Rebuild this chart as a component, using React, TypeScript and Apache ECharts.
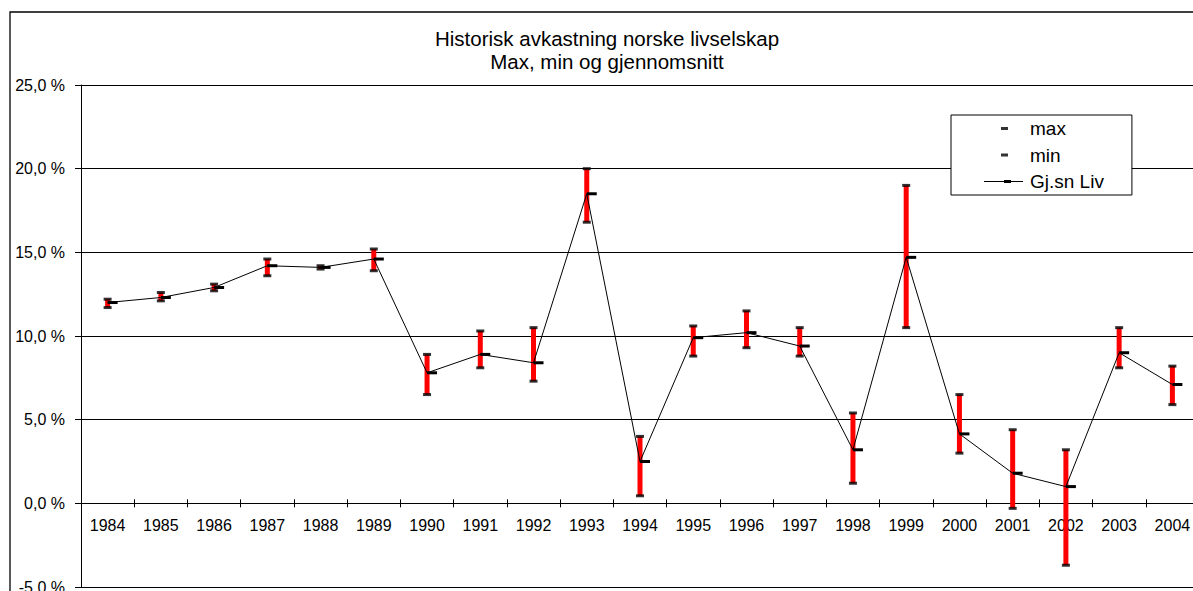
import React, { useEffect, useRef } from "react";
import * as echarts from "echarts";

const years = ["1984","1985","1986","1987","1988","1989","1990","1991","1992","1993","1994","1995","1996","1997","1998","1999","2000","2001","2002","2003","2004"];
const maxVals = [12.2, 12.6, 13.1, 14.6, 14.2, 15.2, 8.9, 10.3, 10.5, 20.0, 4.0, 10.6, 11.5, 10.5, 5.4, 19.0, 6.5, 4.4, 3.2, 10.5, 8.2];
const minVals = [11.7, 12.1, 12.7, 13.6, 14.0, 13.9, 6.5, 8.1, 7.3, 16.8, 0.45, 8.8, 9.3, 8.8, 1.2, 10.5, 3.0, -0.3, -3.7, 8.1, 5.9];
const avgVals = [12.0, 12.3, 12.9, 14.2, 14.1, 14.6, 7.8, 8.9, 8.4, 18.5, 2.5, 9.9, 10.2, 9.4, 3.2, 14.7, 4.15, 1.8, 1.0, 9.0, 7.1];

const yMin = -5;
const yMax = 25;
const yStep = 5;

const titleText = "Historisk avkastning norske livselskap\nMax, min og gjennomsnitt";
const FONT = "'Liberation Sans', Arial, sans-serif";

const dashIcon = "path://M0,0h0.01v0.01h-0.01z M17,0h7v3h-7z M40.99,2.99h0.01v0.01h-0.01z";
const lineIcon = "path://M0,1h39v1h-39z M20,0h7v3h-7z M40.99,0h0.01v0.01h-0.01z";

const GRID_TOP = 85;
const GRID_H = 502;

export default function App() {
  const ref = useRef<HTMLDivElement>(null);
  useEffect(() => {
    document.body.style.margin = "0";
    const chart = echarts.init(ref.current!, null, { renderer: "svg" });
    const rangeData = years.map((_, i) => [i, minVals[i], maxVals[i]]);
    // distance from grid bottom up to the value 0 (x axis crosses y at 0)
    const zeroOffset = -(GRID_H * (0 - yMin)) / (yMax - yMin);
    chart.setOption({
      animation: false,
      backgroundColor: "#fff",
      textStyle: { fontFamily: FONT },
      title: {
        text: titleText,
        left: 607,
        top: 27,
        padding: 0,
        textAlign: "center",
        textStyle: { fontSize: 20.5, fontWeight: "normal", color: "#000", lineHeight: 23, fontFamily: FONT },
      },
      legend: {
        left: 951,
        top: 115,
        orient: "vertical",
        itemWidth: 41,
        itemHeight: 3,
        itemGap: 7.5,
        padding: [4, 28, 4, 33],
        borderColor: "#000",
        borderWidth: 1,
        backgroundColor: "#fff",
        selectedMode: false,
        textStyle: { fontSize: 19, color: "#000", fontFamily: FONT },
        data: [
          { name: "max", icon: dashIcon },
          { name: "min", icon: dashIcon },
          { name: "Gj.sn Liv", icon: lineIcon },
        ],
      },
      graphic: [
        {
          type: "rect",
          silent: true,
          z: -10,
          shape: { x: 10, y: 12, width: 1400, height: 800 },
          style: { fill: "none", stroke: "#000", lineWidth: 1.3 },
        },
      ],
      grid: { left: 81, top: GRID_TOP, width: 1118, height: GRID_H, containLabel: false, outerBoundsMode: "none" },
      xAxis: [
        {
          type: "category",
          data: years,
          position: "bottom",
          offset: zeroOffset,
          boundaryGap: true,
          axisLine: { show: true, onZero: false, lineStyle: { color: "#000", width: 1 } },
          axisTick: { show: true, inside: false, length: 4, lineStyle: { color: "#000" } },
          axisLabel: { show: true, fontSize: 16, color: "#000", margin: 14, interval: 0, fontFamily: FONT },
          splitLine: { show: false },
        },
        {
          type: "category",
          data: years,
          position: "bottom",
          offset: zeroOffset,
          boundaryGap: true,
          axisLine: { show: false, onZero: false },
          axisTick: { show: true, inside: true, length: 4, lineStyle: { color: "#000" } },
          axisLabel: { show: false },
          splitLine: { show: false },
        },
      ],
      yAxis: {
        type: "value",
        min: yMin,
        max: yMax,
        interval: yStep,
        axisLine: { show: true, lineStyle: { color: "#000", width: 1 } },
        axisTick: { show: true, inside: false, length: 6, lineStyle: { color: "#000" } },
        axisLabel: {
          fontSize: 16,
          color: "#000",
          margin: 16,
          fontFamily: FONT,
          formatter: (v: number) => v.toFixed(1).replace(".", ",") + " %",
        },
        splitLine: { show: true, lineStyle: { color: "#000", width: 1 } },
      },
      series: [
        {
          type: "custom",
          name: "range",
          xAxisIndex: 0,
          z: 2,
          encode: { x: 0, y: [1, 2] },
          data: rangeData,
          renderItem: (params: any, api: any) => {
            const i = api.value(0);
            const lo = api.coord([i, api.value(1)]);
            const hi = api.coord([i, api.value(2)]);
            return {
              type: "rect",
              shape: { x: lo[0] - 2.5, y: hi[1], width: 5, height: lo[1] - hi[1] },
              style: { fill: "#ff0000" },
            };
          },
        },
        {
          type: "scatter",
          name: "max",
          xAxisIndex: 0,
          z: 3,
          data: maxVals,
          symbol: "rect",
          symbolSize: [8, 3],
          itemStyle: { color: "#000" },
        },
        {
          type: "scatter",
          name: "min",
          xAxisIndex: 0,
          z: 3,
          data: minVals,
          symbol: "rect",
          symbolSize: [8, 3],
          itemStyle: { color: "#000" },
        },
        {
          type: "line",
          name: "Gj.sn Liv",
          xAxisIndex: 0,
          z: 4,
          data: avgVals,
          symbol: "rect",
          symbolSize: [10, 3],
          symbolOffset: [5, 0],
          showSymbol: true,
          itemStyle: { color: "#000" },
          lineStyle: { color: "#000", width: 1 },
        },
      ],
    });
    return () => chart.dispose();
  }, []);
  return <div ref={ref} style={{ width: 1193, height: 591 }} />;
}
